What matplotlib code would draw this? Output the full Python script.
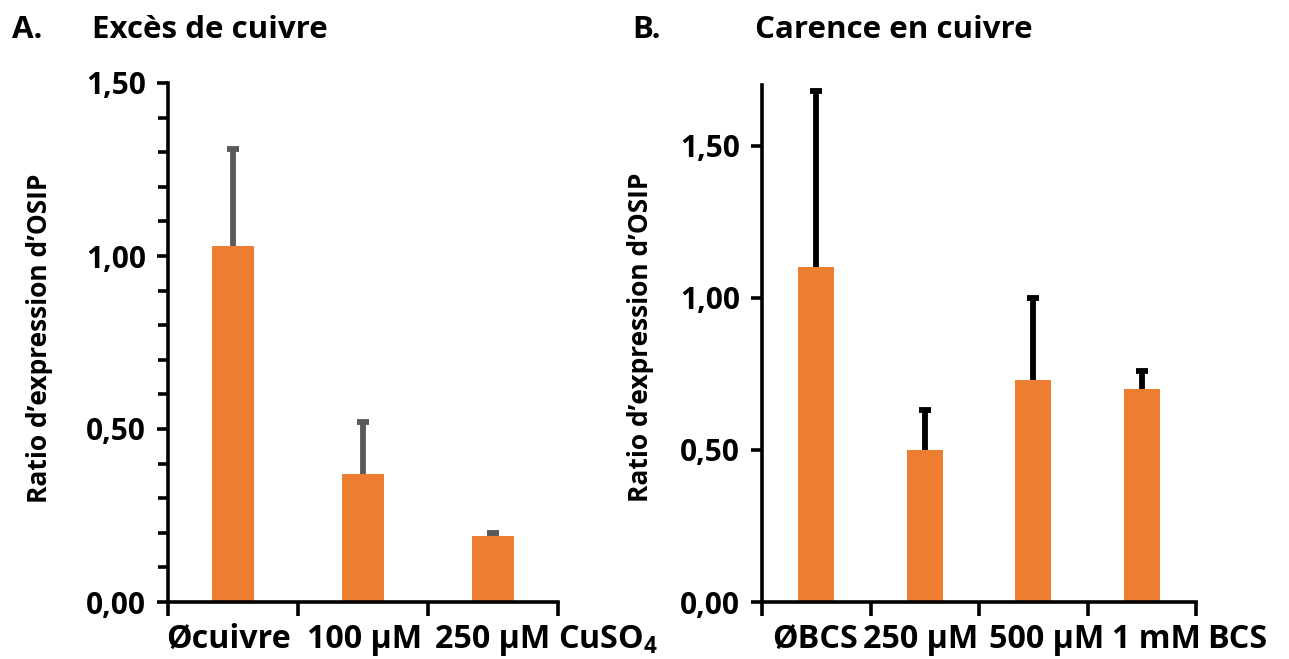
import matplotlib
matplotlib.use("Agg")
import matplotlib.pyplot as plt
from matplotlib.ticker import FuncFormatter, MultipleLocator
from matplotlib.transforms import ScaledTranslation
import numpy as np

# Data
cats_a = ["Øcuivre", "100 µM", "250 µM"]
vals_a = [1.03, 0.37, 0.19]
err_a = [0.28, 0.15, 0.01]

cats_b = ["ØBCS", "250 µM", "500 µM", "1 mM"]
vals_b = [1.10, 0.50, 0.73, 0.70]
err_b = [0.58, 0.13, 0.27, 0.06]

plt.rcParams['font.family'] = ['Open Sans', 'DejaVu Sans']
plt.rcParams['font.weight'] = 'bold'
plt.rcParams['mathtext.default'] = 'regular'

BAR = "#ED7D31"
W, H = 1289, 659
fig = plt.figure(figsize=(W / 100, H / 100), dpi=100)

XFS = 23.2   # category labels
YFS = 21.5   # y tick labels
TFS = 22.5   # titles
LFS = 19     # y labels


def panel(rect, cats, vals, errs, ecolor, ymax, minor, shifts):
    ax = fig.add_axes(rect)
    n = len(cats)
    x = np.arange(n)
    ax.bar(x, vals, width=0.33, color=BAR, zorder=2)
    _, caps, _ = ax.errorbar(x, vals, yerr=[np.zeros(n), errs], fmt='none', ecolor=ecolor,
                             elinewidth=4.2, capsize=4.5, capthick=4.2, zorder=3)
    caps[0].set_visible(False)  # no lower caps
    ax.set_xlim(-0.5, n - 0.5)
    ax.set_ylim(0, ymax)
    for s in ["top", "right"]:
        ax.spines[s].set_visible(False)
    for s in ["left", "bottom"]:
        ax.spines[s].set_linewidth(2.6)
        ax.spines[s].set_color("black")
    ax.yaxis.set_major_locator(MultipleLocator(0.5))
    if minor:
        ax.yaxis.set_minor_locator(MultipleLocator(0.1))
        ax.tick_params(axis='y', which='minor', length=7, width=2.6, direction='out')
    ax.yaxis.set_major_formatter(FuncFormatter(lambda v, p: f"{v:.2f}".replace(".", ",")))
    ax.tick_params(axis='y', which='major', length=8, width=2.6, labelsize=YFS, pad=8)
    ax.set_xticks(x)
    ax.set_xticklabels(cats)
    ax.tick_params(axis='x', which='major', length=0, labelsize=XFS, pad=15)
    ax.set_xticks(np.arange(n + 1) - 0.5, minor=True)
    ax.tick_params(axis='x', which='minor', length=10, width=2.6, direction='out')
    for lab in ax.get_xticklabels() + ax.get_yticklabels():
        lab.set_fontweight('bold')
    for lab, dx in zip(ax.get_xticklabels(), shifts):
        lab.set_transform(lab.get_transform() + ScaledTranslation(dx / 100, 0, fig.dpi_scale_trans))
    return ax


axA = panel([168 / W, 57 / H, 390 / W, 519 / H], cats_a, vals_a, err_a, "#595959", 1.5, True,
            [-5, 2, 0])
axB = panel([762 / W, 57 / H, 434 / W, 517 / H], cats_b, vals_b, err_b, "black", 1.7, False,
            [-1, -4, 13, 15])

# Unit labels after the categories
fig.text(558 / W, 1 - 640 / H, "CuSO$_4$", fontsize=XFS, fontweight='bold', ha='left', va='center')
fig.text(1207 / W, 1 - 640 / H, "BCS", fontsize=XFS, fontweight='bold', ha='left', va='center')

# Y labels
fig.text(40 / W, 1 - 338 / H, "Ratio d’expression d’OSIP", fontsize=LFS, fontweight='bold',
         rotation=90, ha='center', va='center')
fig.text(640 / W, 1 - 337 / H, "Ratio d’expression d’OSIP", fontsize=LFS, fontweight='bold',
         rotation=90, ha='center', va='center')

# Panel titles
fig.text(12 / W, 1 - 30 / H, "A.", fontsize=TFS, fontweight='bold', ha='left', va='center')
fig.text(92 / W, 1 - 30 / H, "Excès de cuivre", fontsize=TFS, fontweight='bold', ha='left', va='center')
fig.text(632 / W, 1 - 30 / H, "B.", fontsize=TFS, fontweight='bold', ha='left', va='center')
fig.text(755 / W, 1 - 30 / H, "Carence en cuivre", fontsize=TFS, fontweight='bold', ha='left', va='center')

fig.savefig("out.png", dpi=100)
